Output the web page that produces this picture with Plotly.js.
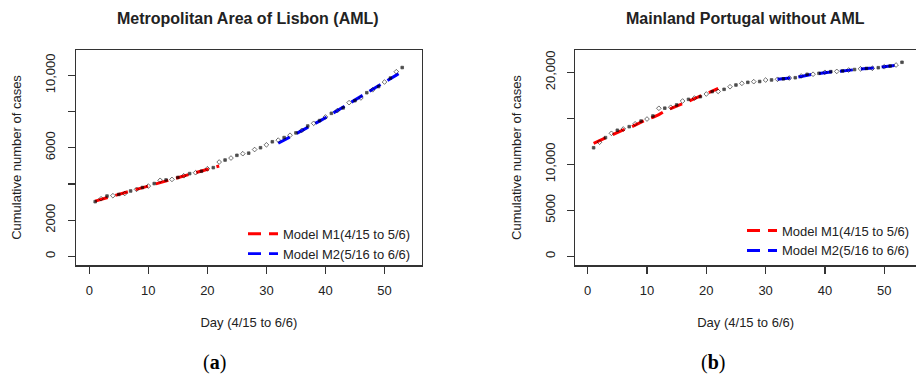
<!DOCTYPE html>
<html>
<head>
<meta charset="utf-8">
<script src="https://cdn.plot.ly/plotly-3.0.1.min.js"></script>
<style>html,body{margin:0;padding:0;background:#fff;}#chart{width:916px;height:376px;}</style>
</head>
<body>
<div id="chart"></div>
<script>
// ---------- data ----------
const days = [1,2,3,4,5,6,7,8,9,10,11,12,13,14,15,16,17,18,19,20,21,22,23,24,25,26,27,28,29,30,31,32,33,34,35,36,37,38,39,40,41,42,43,44,45,46,47,48,49,50,51,52,53];
const m1Days = [1,2,3,4,5,6,7,8,9,10,11,12,13,14,15,16,17,18,19,20,21,22];
const m2Days = [32,33,34,35,36,37,38,39,40,41,42,43,44,45,46,47,48,49,50,51,52,53];

// Panel (a): Metropolitan Area of Lisbon
const amlObserved = [3020,3180,3330,3350,3420,3470,3610,3700,3800,3880,4020,4200,4220,4250,4360,4450,4570,4620,4700,4840,4900,5210,5320,5430,5580,5670,5700,5900,6000,6160,6330,6420,6560,6690,6820,6960,7200,7350,7500,7700,7900,8050,8200,8490,8600,8750,9040,9200,9380,9630,9850,10200,10430];
const amlM1 = [3050,3150,3250,3340,3430,3520,3610,3700,3790,3880,3970,4060,4150,4250,4340,4430,4520,4610,4700,4790,4890,4990];
const amlM2 = [6250,6420,6590,6760,6930,7110,7290,7470,7660,7850,8040,8230,8430,8630,8830,9030,9230,9420,9600,9800,10010,10220];

// Panel (b): Mainland Portugal without AML
const mainObserved = [11800,12400,12900,13370,13700,13840,14090,14400,14700,14920,15250,16090,16100,16200,16450,16880,17060,17200,17350,17640,17900,17920,18150,18430,18620,18800,18910,18980,19000,19160,19170,19240,19290,19380,19410,19600,19780,19790,19890,20000,20070,20100,20150,20250,20300,20380,20420,20430,20500,20600,20680,20790,21090];
const mainM1 = [12280,12580,12880,13150,13450,13740,13950,14250,14600,14900,15100,15400,15800,16050,16350,16600,16850,17150,17400,17650,17950,18250];
const mainM2 = [19240,19290,19350,19420,19550,19700,19790,19880,19980,20040,20080,20160,20240,20310,20360,20420,20470,20530,20600,20680,20760,20870];

// tick labels
const xTicks = [0,10,20,30,40,50];
const amlYTicks = [0,2000,4000,6000,8000,10000];
const amlYLabels = ['0','2000','','6000','','10,000'];
const mainYTicks = [0,5000,10000,15000,20000];
const mainYLabels = ['0','5000','10,000','','20,000'];

const titles = ['Metropolitan Area of Lisbon (AML)', 'Mainland Portugal without AML'];
const xTitle = 'Day (4/15 to 6/6)';
const yTitle = 'Cumulative number of cases';
const m1Name = 'Model M1(4/15 to 5/6)';
const m2Name = 'Model M2(5/16 to 6/6)';

// ---------- styling ----------
const FONT = 'Liberation Sans, Arial, sans-serif';
const TXT = '#222';
const AX = '#333';
const dash = '13px,8px';
const sym = days.map((d, i) => (i % 2 ? 'diamond-open' : 'square'));
const msize = days.map((d, i) => (i % 2 ? 3.6 : 2.6));

function modelTrace(x, y, color, name, xa, ya, leg) {
  return {x: x, y: y, type: 'scatter', mode: 'lines', name: name,
    line: {color: color, width: 3, dash: dash}, xaxis: xa, yaxis: ya,
    legend: leg, showlegend: true, hoverinfo: 'skip'};
}
function obsTrace(x, y, xa, ya) {
  return {x: x, y: y, type: 'scatter', mode: 'markers', showlegend: false,
    marker: {color: '#000', size: msize, symbol: sym, line: {color: '#000', width: 0.8}},
    xaxis: xa, yaxis: ya, hoverinfo: 'skip'};
}

const data = [
  modelTrace(m1Days, amlM1, '#ff0000', m1Name, 'x', 'y', 'legend'),
  modelTrace(m2Days, amlM2, '#0000ff', m2Name, 'x', 'y', 'legend'),
  obsTrace(days, amlObserved, 'x', 'y'),
  modelTrace(m1Days, mainM1, '#ff0000', m1Name, 'x2', 'y2', 'legend2'),
  modelTrace(m2Days, mainM2, '#0000ff', m2Name, 'x2', 'y2', 'legend2'),
  obsTrace(days, mainObserved, 'x2', 'y2')
];

const tickFont = {family: FONT, size: 13, color: TXT};
const titleFont = {family: FONT, size: 13, color: TXT};

function xAxis(domain, range, anchor) {
  return {domain: domain, range: range, anchor: anchor, tickvals: xTicks,
    ticks: 'outside', ticklen: 7, tickwidth: 1.2, tickcolor: AX,
    showline: true, linecolor: AX, linewidth: 1.5, mirror: true,
    showgrid: false, zeroline: false, tickfont: tickFont, ticklabelstandoff: 6,
    title: {text: xTitle, font: titleFont, standoff: 21}};
}
function yAxis(range, anchor, vals, labels, mirror) {
  return {domain: [0, 1], range: range, anchor: anchor, tickvals: vals, ticktext: labels,
    tickangle: -90, ticks: 'outside', ticklen: 7, tickwidth: 1.2, tickcolor: AX,
    showline: true, linecolor: AX, linewidth: 1.5, mirror: mirror,
    showgrid: false, zeroline: false, tickfont: tickFont, ticklabelstandoff: 7,
    title: {text: yTitle, font: titleFont, standoff: 18}};
}

const legendBase = {font: {family: FONT, size: 13, color: TXT}, bgcolor: 'rgba(0,0,0,0)',
  borderwidth: 0, xanchor: 'left', yanchor: 'top', tracegroupgap: 0};

const layout = {
  width: 916, height: 376,
  margin: {l: 0, r: 0, t: 50, b: 111},
  paper_bgcolor: '#fff', plot_bgcolor: '#fff',
  font: {family: FONT, color: TXT},
  xaxis: xAxis([76/916, 421.7/916], [-2.25, 56.3], 'y'),
  yaxis: yAxis([-480, 11400], 'x', amlYTicks, amlYLabels, true),
  xaxis2: xAxis([575.3/916, 1], [-2.09, 55.36], 'y2'),
  yaxis2: yAxis([-946, 22424], 'x2', mainYTicks, mainYLabels, false),
  legend: Object.assign({}, legendBase, {x: 243/916, y: 0.215}),
  legend2: Object.assign({}, legendBase, {x: 742/916, y: 0.23}),
  annotations: [
    {text: '<b>' + titles[0] + '</b>', xref: 'paper', yref: 'paper', x: 248/916, y: (265-18)/215,
     showarrow: false, xanchor: 'center', yanchor: 'middle', font: {family: FONT, size: 16, color: TXT}},
    {text: '<b>' + titles[1] + '</b>', xref: 'paper', yref: 'paper', x: 745/916, y: (265-18)/215,
     showarrow: false, xanchor: 'center', yanchor: 'middle', font: {family: FONT, size: 16, color: TXT}},
    {text: '(<b>a</b>)', xref: 'paper', yref: 'paper', x: 214/916, y: (265-362)/215,
     showarrow: false, xanchor: 'center', yanchor: 'middle', font: {family: 'Liberation Serif, DejaVu Serif, serif', size: 20, color: '#000'}},
    {text: '(<b>b</b>)', xref: 'paper', yref: 'paper', x: 712.5/916, y: (265-362)/215,
     showarrow: false, xanchor: 'center', yanchor: 'middle', font: {family: 'Liberation Serif, DejaVu Serif, serif', size: 20, color: '#000'}}
  ]
};

Plotly.newPlot('chart', data, layout, {staticPlot: true, displayModeBar: false});
</script>
</body>
</html>
